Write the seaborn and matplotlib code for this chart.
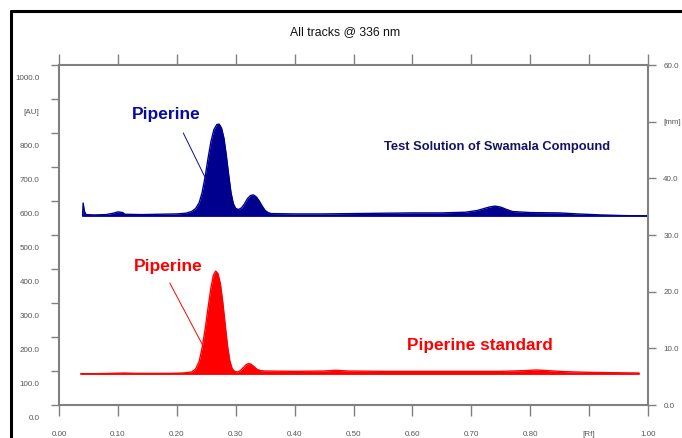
import matplotlib
matplotlib.use("Agg")
import matplotlib.pyplot as plt
import matplotlib.transforms as mtransforms
from matplotlib.lines import Line2D
import seaborn as sns
import pandas as pd

# ---- data ----
blue_rf = [0.040, 0.041, 0.043, 0.046, 0.06, 0.08, 0.092, 0.100, 0.108, 0.112, 0.14, 0.17, 0.20,
           0.215, 0.225, 0.232, 0.238, 0.243, 0.248, 0.253, 0.258, 0.263, 0.268, 0.272, 0.276,
           0.280, 0.284, 0.288, 0.292, 0.296, 0.300, 0.305, 0.310, 0.315, 0.320, 0.325, 0.330,
           0.335, 0.340, 0.345, 0.350, 0.355, 0.36, 0.40, 0.45, 0.50, 0.55, 0.60, 0.65, 0.69,
           0.71, 0.72, 0.73, 0.74, 0.75, 0.76, 0.77, 0.80, 0.85, 0.88, 0.92, 0.96, 1.00]
blue_au = [556, 594, 570, 560, 559, 560, 564, 568, 566, 561, 560, 561, 562,
           564, 569, 578, 595, 625, 670, 725, 775, 810, 825, 826, 814,
           785, 735, 678, 625, 592, 578, 575, 580, 592, 607, 616, 618,
           612, 600, 585, 572, 566, 563, 562, 562, 563, 564, 565, 565, 567,
           572, 577, 582, 585, 582, 575, 569, 566, 565, 562, 559, 557, 556]
blue_base = 556

red_rf = [0.037, 0.06, 0.09, 0.11, 0.13, 0.16, 0.19, 0.21, 0.225, 0.232, 0.238, 0.243, 0.248,
          0.253, 0.258, 0.262, 0.266, 0.270, 0.274, 0.278, 0.282, 0.286, 0.290, 0.294, 0.298,
          0.303, 0.308, 0.313, 0.318, 0.322, 0.326, 0.331, 0.336, 0.342, 0.35, 0.40, 0.45,
          0.47, 0.49, 0.55, 0.60, 0.65, 0.70, 0.75, 0.79, 0.81, 0.83, 0.86, 0.90, 0.94, 0.985]
red_au = [92, 92, 93, 94, 93, 93, 93, 94, 97, 106, 128, 168, 222,
          285, 345, 381, 394, 386, 356, 303, 238, 175, 130, 107, 99,
          97, 101, 110, 119, 122, 120, 113, 105, 101, 100, 99, 100,
          102, 100, 99, 99, 99, 99, 99, 101, 103, 101, 98, 96, 95, 94]
red_base = 91

x_ticks = [0.0, 0.1, 0.2, 0.3, 0.4, 0.5, 0.6, 0.7, 0.8, 0.9, 1.0]
x_labels = ["0.00", "0.10", "0.20", "0.30", "0.40", "0.50", "0.60", "0.70", "0.80", "[Rf]", "1.00"]
y_ticks = [0, 100, 200, 300, 400, 500, 600, 700, 800, 900, 1000]
y_labels = ["0.0", "100.0", "200.0", "300.0", "400.0", "500.0", "600.0", "700.0", "800.0", "[AU]", "1000.0"]
r_ticks = [0, 10, 20, 30, 40, 50, 60]
r_labels = ["0.0", "10.0", "20.0", "30.0", "40.0", "[mm]", "60.0"]

title = "All tracks @ 336 nm"
lbl_test = "Test Solution of Swamala Compound"
lbl_pip = "Piperine"
lbl_std = "Piperine standard"

# ---- style ----
sns.set_style("white")
fam = ["Liberation Sans", "DejaVu Sans"]
plt.rcParams["font.family"] = fam

BLUE = "#00008f"
RED = "#ff0000"
GRAY = "#808080"
TXT = "#555555"
TS = 5.8

fig = plt.figure(figsize=(6.82, 4.38), dpi=100)
ax = fig.add_axes([59 / 682, (438 - 405) / 438, (648 - 59) / 682, (405 - 65) / 438])

df_b = pd.DataFrame({"Rf": blue_rf, "AU": blue_au})
df_r = pd.DataFrame({"Rf": red_rf, "AU": red_au})

sns.lineplot(data=df_b, x="Rf", y="AU", ax=ax, color=BLUE, lw=1.0, sort=False)
ax.fill_between(df_b["Rf"], blue_base, df_b["AU"], color=BLUE, lw=0)
ax.plot([blue_rf[0], blue_rf[-1]], [blue_base, blue_base], color=BLUE, lw=1.2)

sns.lineplot(data=df_r, x="Rf", y="AU", ax=ax, color=RED, lw=1.0, sort=False)
ax.fill_between(df_r["Rf"], red_base, df_r["AU"], color=RED, lw=0)
ax.plot([red_rf[0], red_rf[-1]], [red_base, red_base], color=RED, lw=1.2)

ax.set_xlim(0, 1.0)
ax.set_ylim(0, 1000)
ax.set_xlabel("")
ax.set_ylabel("")

for s in ax.spines.values():
    s.set_color(GRAY)
    s.set_linewidth(1.5)

ax.set_xticks(x_ticks)
ax.set_xticklabels(x_labels)
ax.set_yticks(y_ticks)
ax.set_yticklabels(y_labels)
ax.tick_params(axis="x", which="both", bottom=True, top=True, direction="out",
               length=8, width=1.0, color=GRAY, labelsize=TS, labelcolor=TXT, pad=11)
ax.tick_params(axis="y", left=True, direction="out", length=6, width=1.0,
               color=GRAY, labelsize=TS, labelcolor=TXT, pad=8)

off = mtransforms.ScaledTranslation(0, -12 / 100, fig.dpi_scale_trans)
for lbl in ax.get_yticklabels():
    lbl.set_transform(lbl.get_transform() + off)

ax2 = ax.twinx()
ax2.set_ylim(0, 60)
ax2.set_yticks(r_ticks)
ax2.set_yticklabels(r_labels)
ax2.tick_params(axis="y", right=True, direction="out", length=6, width=1.0,
                color=GRAY, labelsize=TS, labelcolor=TXT, pad=5)
for s in ax2.spines.values():
    s.set_visible(False)
ax2.grid(False)

# ---- annotations ----
ax.text(0.182, 853, lbl_pip, color="#0a0aa0", fontsize=12.5, fontweight="bold",
        ha="center", va="center")
ax.plot([0.211, 0.251], [800, 659], color="#0a0aa0", lw=0.7)
ax.text(0.744, 759, lbl_test, color="#141466", fontsize=9.3, fontweight="bold",
        ha="center", va="center")
ax.text(0.185, 406, lbl_pip, color=RED, fontsize=12.5, fontweight="bold",
        ha="center", va="center")
ax.plot([0.188, 0.244], [359, 176], color=RED, lw=0.7)
ax.text(0.715, 174, lbl_std, color=RED, fontsize=12.4, fontweight="bold",
        ha="center", va="center")

fig.text(345 / 682, 1 - 32 / 438, title, ha="center", va="center", fontsize=8.8,
         color="#111111")

# outer frame (left and top black lines)
fig.add_artist(Line2D([11 / 682, 11 / 682], [0, 1 - 11 / 438], color="black", lw=2.2,
                      transform=fig.transFigure))
fig.add_artist(Line2D([11 / 682, 1.0], [1 - 11 / 438, 1 - 11 / 438], color="black", lw=2.2,
                      transform=fig.transFigure))

fig.savefig("out.png", dpi=100)
